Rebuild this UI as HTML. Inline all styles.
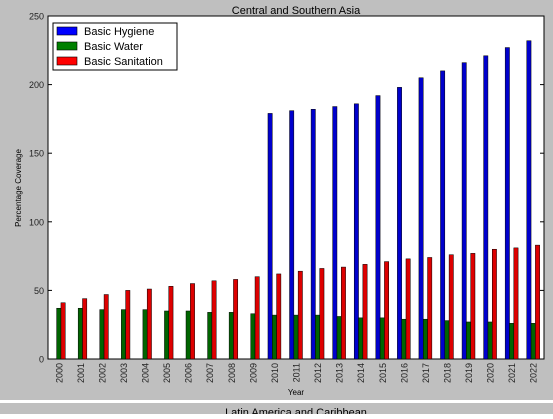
<!DOCTYPE html>
<html><head><meta charset="utf-8"><style>
body{margin:0;background:#fff;width:553px;height:414px;overflow:hidden;font-family:"Liberation Sans",sans-serif}
</style></head><body>
<svg width="553" height="414" id="svg" font-family="Liberation Sans, sans-serif">
<rect x="0" y="0" width="553" height="400" fill="#bfbfbf"/>
<rect x="0" y="403" width="553" height="11" fill="#bfbfbf"/>
<text x="296" y="416" font-size="11" text-anchor="middle">Latin America and Caribbean</text>
<text x="296" y="14" font-size="11" text-anchor="middle">Central and Southern Asia</text>
<rect x="48" y="16" width="496" height="343" fill="#fff" stroke="#000" stroke-width="1"/>
<g id="bars"></g>
<g id="axes"></g>
<text x="296" y="395" font-size="8" text-anchor="middle">Year</text>
<text transform="translate(21,188) rotate(-90)" font-size="8" text-anchor="middle">Percentage Coverage</text>
<g>
<rect x="53" y="23" width="124" height="47" fill="#fff" stroke="#000" stroke-width="1"/>
<rect x="57" y="27" width="20" height="8" fill="#0000ff" stroke="#000" stroke-width="0.6"/>
<text x="84" y="35" font-size="11">Basic Hygiene</text>
<rect x="57" y="42" width="20" height="8" fill="#008000" stroke="#000" stroke-width="0.6"/>
<text x="84" y="50" font-size="11">Basic Water</text>
<rect x="57" y="57" width="20" height="8" fill="#ff0000" stroke="#000" stroke-width="0.6"/>
<text x="84" y="65" font-size="11">Basic Sanitation</text>
</g>
</svg>
<script>
const years=["2000","2001","2002","2003","2004","2005","2006","2007","2008","2009","2010","2011","2012","2013","2014","2015","2016","2017","2018","2019","2020","2021","2022"];
const hygiene=[null,null,null,null,null,null,null,null,null,null,179,181,182,184,186,192,198,205,210,216,221,227,232];
const water=[37,37,36,36,36,35,35,34,34,33,32,32,32,31,30,30,29,29,28,27,27,26,26];
const sanitation=[41,44,47,50,51,53,55,57,58,60,62,64,66,67,69,71,73,74,76,77,80,81,83];
const yTicks=[0,50,100,150,200,250];
const L=48,R=544,T=16,B=359,YMAX=250;
const NS="http://www.w3.org/2000/svg";
const n=years.length,step=(R-L)/n,bw=step*0.2;
const xc=i=>L+step*(i+0.5);
const y=v=>B-(v/YMAX)*(B-T);
const bars=document.getElementById('bars'),axes=document.getElementById('axes');
function mk(tag,a){const e=document.createElementNS(NS,tag);for(const k in a)e.setAttribute(k,a[k]);return e;}
const series=[[hygiene,'#0000cc',-1,'hygiene'],[water,'#006400',0,'water'],[sanitation,'#dd0000',1,'sanitation']];
series.forEach(([arr,col,off,nm])=>{arr.forEach((v,i)=>{if(v==null)return;
const r=mk('rect',{x:xc(i)+off*bw-bw/2,y:y(v),width:bw,height:B-y(v),fill:col,stroke:'#000','stroke-width':0.5});


bars.appendChild(r);});});
yTicks.forEach(t=>{
const l=mk('line',{x1:L,x2:L+4,y1:y(t),y2:y(t),stroke:'#000'});


axes.appendChild(l);
const l2=mk('line',{x1:R-4,x2:R,y1:y(t),y2:y(t),stroke:'#000'});


axes.appendChild(l2);
const tx=mk('text',{x:L-4,y:y(t)+3.5,'font-size':9,'text-anchor':'end',fill:'#222'});
tx.textContent=t;


axes.appendChild(tx);});
years.forEach((yr,i)=>{
const tx=mk('text',{transform:`translate(${xc(i)+3.5},${B+4}) rotate(-90)`,'font-size':9,'text-anchor':'end',fill:'#222'});
tx.textContent=yr;


axes.appendChild(tx);});
</script>
</body></html>
